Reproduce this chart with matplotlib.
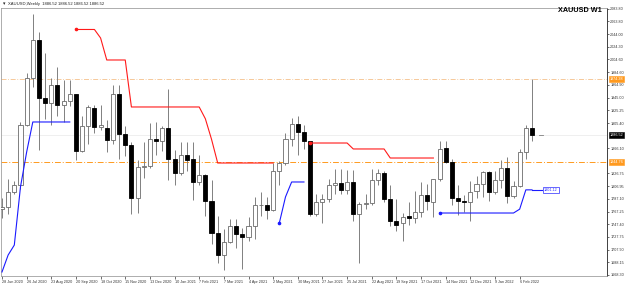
"""Weekly XAUUSD candles with trailing stop lines, MT4 style."""

import matplotlib

matplotlib.use("Agg")

import matplotlib.pyplot as plt
import matplotlib.transforms as mtransforms
import numpy as np
import pandas as pd

plt.rcParams["font.family"] = ["Liberation Sans", "DejaVu Sans"]

# weekly bars, week start dates (Sunday)
weeks = pd.date_range("2020-06-28", periods=87, freq="7D")

opens = [1771, 1774, 1798, 1808, 1902, 1975, 2035, 1944, 1937, 1964, 1934, 1940,
         1950, 1862, 1900, 1929, 1899, 1898, 1879, 1951, 1889, 1871, 1788, 1837,
         1839, 1881, 1878, 1898, 1849, 1828, 1856, 1850, 1813, 1824, 1784, 1734,
         1700, 1719, 1745, 1732, 1728, 1744, 1777, 1778, 1769, 1831, 1843, 1881,
         1904, 1891, 1877, 1764, 1782, 1787, 1808, 1812, 1801, 1813, 1763, 1779,
         1781, 1817, 1827, 1787, 1752, 1749, 1760, 1757, 1767, 1793, 1782, 1818,
         1866, 1845, 1788, 1783, 1782, 1799, 1811, 1829, 1797, 1817, 1835, 1791,
         1807, 1860, 1898]
highs = [1789, 1818, 1815, 1907, 1984, 2075, 2048, 2015, 1976, 1992, 1972, 1973,
         1951, 1917, 1933, 1933, 1933, 1910, 1965, 1965, 1900, 1875, 1848, 1875,
         1906, 1907, 1900, 1959, 1863, 1875, 1875, 1875, 1855, 1826, 1816, 1760,
         1740, 1755, 1755, 1741, 1758, 1790, 1797, 1790, 1843, 1846, 1890, 1913,
         1916, 1903, 1877, 1795, 1795, 1818, 1834, 1834, 1832, 1832, 1782, 1795,
         1834, 1834, 1830, 1809, 1787, 1765, 1782, 1800, 1814, 1810, 1818, 1877,
         1877, 1849, 1809, 1793, 1815, 1823, 1830, 1830, 1830, 1848, 1853, 1815,
         1865, 1902, 1974]
lows = [1757, 1763, 1795, 1803, 1900, 1962, 1863, 1911, 1902, 1916, 1907, 1932,
        1848, 1860, 1873, 1890, 1895, 1860, 1873, 1850, 1854, 1764, 1765, 1820,
        1835, 1855, 1862, 1817, 1808, 1824, 1831, 1785, 1809, 1761, 1717, 1687,
        1676, 1718, 1711, 1677, 1721, 1724, 1760, 1756, 1768, 1808, 1840, 1870,
        1855, 1865, 1761, 1760, 1750, 1782, 1795, 1794, 1794, 1753, 1687, 1772,
        1778, 1808, 1782, 1745, 1737, 1721, 1746, 1750, 1758, 1770, 1759, 1815,
        1843, 1778, 1762, 1766, 1753, 1788, 1790, 1783, 1795, 1804, 1780, 1788,
        1806, 1850, 1878]
closes = [1774, 1798, 1808, 1902, 1975, 2035, 1944, 1937, 1964, 1934, 1940, 1950,
          1862, 1900, 1930, 1899, 1902, 1879, 1951, 1889, 1871, 1788, 1837, 1839,
          1881, 1878, 1898, 1849, 1828, 1856, 1847, 1813, 1824, 1784, 1734, 1700,
          1719, 1745, 1732, 1728, 1744, 1777, 1778, 1769, 1831, 1843, 1881, 1904,
          1891, 1877, 1764, 1782, 1787, 1808, 1812, 1801, 1813, 1763, 1779, 1781,
          1817, 1827, 1787, 1752, 1747, 1759, 1757, 1767, 1793, 1783, 1818, 1865,
          1845, 1789, 1783, 1782, 1798, 1811, 1829, 1797, 1817, 1835, 1791, 1807,
          1860, 1898, 1886.52]

nan = np.nan
# trailing stop above price (red) and below price (blue)
red_stop = ([nan] * 12 + [2051.3] * 4 + [2038.0] + [2003.7] * 4 + [1930.4] * 12
            + [1912.0, 1880.0] + [1843.0] * 10 + [nan] * 5 + [1874.2] * 7
            + [1864.9] * 6 + [1850.8] * 8 + [nan] * 16)
blue_stop = ([1673.0, 1699.5, 1715.0, 1805.6, 1860.0] + [1907.0] * 7 + [nan] * 33
             + [1749.4, 1790.0, 1813.4, 1813.4, 1813.4] + [nan] * 21
             + [1765.0] * 13 + [1771.0, 1801.12, 1801.12])

y_ticks = [2083.80, 2063.80, 2044.00, 2024.30, 2004.60, 1984.60, 1964.90, 1945.00,
           1925.25, 1905.40, 1866.10, 1826.75, 1806.95, 1787.10, 1767.25, 1747.40,
           1727.75, 1707.90, 1688.15, 1668.30]

last_price = 1886.52
high_level = 1974.38
orange_level = 1844.76
blue_label = 1801.12

FS = 2.7  # tiny MT4 axis font

df = pd.DataFrame({"open": opens, "high": highs, "low": lows, "close": closes}, index=weeks)
x = np.arange(len(df))

fig = plt.figure(figsize=(6.25, 2.85), dpi=100)
ax = fig.add_axes([1 / 625, 9 / 285, 606 / 625, 268 / 285])
ax.set_xlim(-0.16, 98.17)
ax.set_ylim(1666.74, 2084.8)

# horizontal levels
ax.axhline(high_level, color="#f5c08a", lw=0.6, ls=(0, (6, 2, 1, 2)), zorder=1)
ax.axhline(orange_level, color="#ff9a1f", lw=0.7, ls=(0, (6, 2, 1, 2)), zorder=1)
ax.axhline(last_price, color="#ececec", lw=0.6, zorder=1)

# candles
up = df["close"] >= df["open"]
ax.vlines(x, df["low"], df["high"], color="#808080", lw=0.7, zorder=2)
body_lo = np.minimum(df["open"], df["close"])
body_h = np.maximum((df["close"] - df["open"]).abs(), 0.8)
ax.bar(x[up], body_h[up], bottom=body_lo[up], width=0.66, color="white",
       edgecolor="#6b6b6b", linewidth=0.6, zorder=3)
ax.bar(x[~up], body_h[~up], bottom=body_lo[~up], width=0.66, color="black",
       edgecolor="black", linewidth=0.6, zorder=3)

# trailing stops
red = np.array(red_stop, dtype=float)
blue = np.array(blue_stop, dtype=float)
ax.plot(x, red, color="#ff1a1a", lw=0.8, zorder=4)
ax.plot([x[-1], x[-1] + 1.7], [blue[-1], blue[-1]], color="#1a1aff", lw=0.8, zorder=4)
ax.plot(x, blue, color="#1a1aff", lw=0.8, zorder=4)
for arr, col in ((red, "#ff1a1a"), (blue, "#1a1aff")):
    starts = [i for i in range(1, len(arr)) if not np.isnan(arr[i]) and np.isnan(arr[i - 1])]
    ax.plot(x[starts], arr[starts], "o", ms=1.6, color=col, zorder=5)

ax.text(x[-1] + 1.9, blue_label, f"{blue_label:.2f}", fontsize=FS, color="#2a2aff",
        va="center", ha="left", zorder=6,
        bbox=dict(boxstyle="square,pad=0.3", fc="white", ec="#2a2aff", lw=0.5))
ax.plot([x[-1] + 1.1, x[-1] + 1.8], [last_price, last_price], color="#808080", lw=0.6)

# axes styling
for side in ("top", "left", "bottom"):
    ax.spines[side].set_color("#a0a0a0")
    ax.spines[side].set_linewidth(0.6)
ax.spines["right"].set_color("#404040")
ax.spines["right"].set_linewidth(0.7)

ax.yaxis.tick_right()
ax.set_yticks(y_ticks)
ax.set_yticklabels([f"{v:.2f}" for v in y_ticks])
ax.tick_params(axis="y", labelsize=FS, length=1.5, width=0.5, pad=0.8, colors="#333333")

ax.set_xticks(x[::4])
ax.set_xticklabels([f"{d.day} {d:%b %Y}" for d in weeks[::4]], ha="left")
ax.tick_params(axis="x", labelsize=FS, length=2, width=0.5, pad=1.2, colors="#333333")

# price boxes on the right axis
trans = mtransforms.blended_transform_factory(ax.transAxes, ax.transData)
for val, fc in ((high_level, "#ff9a1f"), (last_price, "black"), (orange_level, "#ff9a1f")):
    ax.text(1.004, val, f"{val:.2f}", transform=trans, fontsize=FS, color="white",
            va="center", ha="left", clip_on=False, zorder=7,
            bbox=dict(boxstyle="square,pad=0.2", fc=fc, ec=fc, lw=0.4))

fig.text(0.013, 0.986, "XAUUSD,Weekly  1886.52 1886.52 1886.52 1886.52",
         fontsize=3.0, color="#222222", va="center", ha="left")
fig.text(0.004, 0.986, "\u25be", fontsize=3.5, color="#222222", va="center", ha="left",
         family="DejaVu Sans")
fig.text(0.962, 0.963, "XAUUSD W1", fontsize=5.2, fontweight="bold",
         color="black", va="center", ha="right")

fig.savefig("out.png", dpi=100)
